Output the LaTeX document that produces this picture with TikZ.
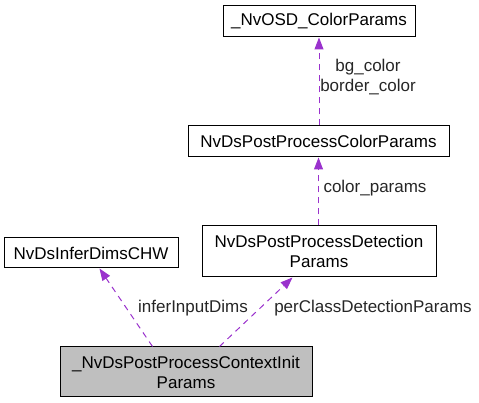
\documentclass[tikz,border=0pt]{standalone}
\usepackage{fontspec}
\setmainfont{Liberation Sans}
\usetikzlibrary{arrows.meta,calc}
\definecolor{edgecol}{HTML}{9A32CD}
\definecolor{maingray}{HTML}{BFBFBF}
\tikzset{
  box/.style={draw=black, line width=1pt, fill=white, inner sep=0pt, align=center,
    font=\fontsize{17}{20}\selectfont, anchor=center},
  dep/.style={draw=edgecol, line width=1pt, dash pattern=on 6pt off 5pt,
    -{Triangle[length=12pt,width=9pt,fill=edgecol]}},
  lbl/.style={font=\fontsize{17}{20}\selectfont, align=center, inner sep=0pt, text=black!85}
}
\begin{document}
\begin{tikzpicture}[x=1pt,y=1pt]
\useasboundingbox (0,0) rectangle (479,403);
% boxes (y = 403 - pixel y)
\node[box, minimum width=192pt, minimum height=31pt] (osd) at (319,381.5) {\_NvOSD\_ColorParams};
\node[box, minimum width=261pt, minimum height=31pt] (color) at (318.5,261.5) {NvDsPostProcessColorParams};
\node[box, minimum width=234pt, minimum height=51pt] (det) at (319,151.5) {NvDsPostProcessDetection\\Params};
\node[box, minimum width=174pt, minimum height=30pt] (chw) at (91,150) {NvDsInferDimsCHW};
\node[box, fill=maingray, minimum width=252pt, minimum height=50pt] (main) at (186,31) {\_NvDsPostProcessContextInit\\Params};
% connectors
\draw[dep] (color.north -| osd.south) -- (osd.south);
\draw[dep] (det.north -| color.south) -- (color.south);
\draw[dep] ($(main.north west)+(93,0)$) -- ($(chw.south west)+(96,0)$);
\draw[dep] ($(main.north west)+(160,0)$) -- ($(det.south west)+(91,0)$);
% labels
\node[lbl] (l1) at (368,326) {bg\_color\\border\_color};
\node[lbl] (l2) at (375,215) {color\_params};
\node[lbl] (l3) at (193,95) {inferInputDims};
\node[lbl] (l4) at (373,95) {perClassDetectionParams};
\end{tikzpicture}
\end{document}
